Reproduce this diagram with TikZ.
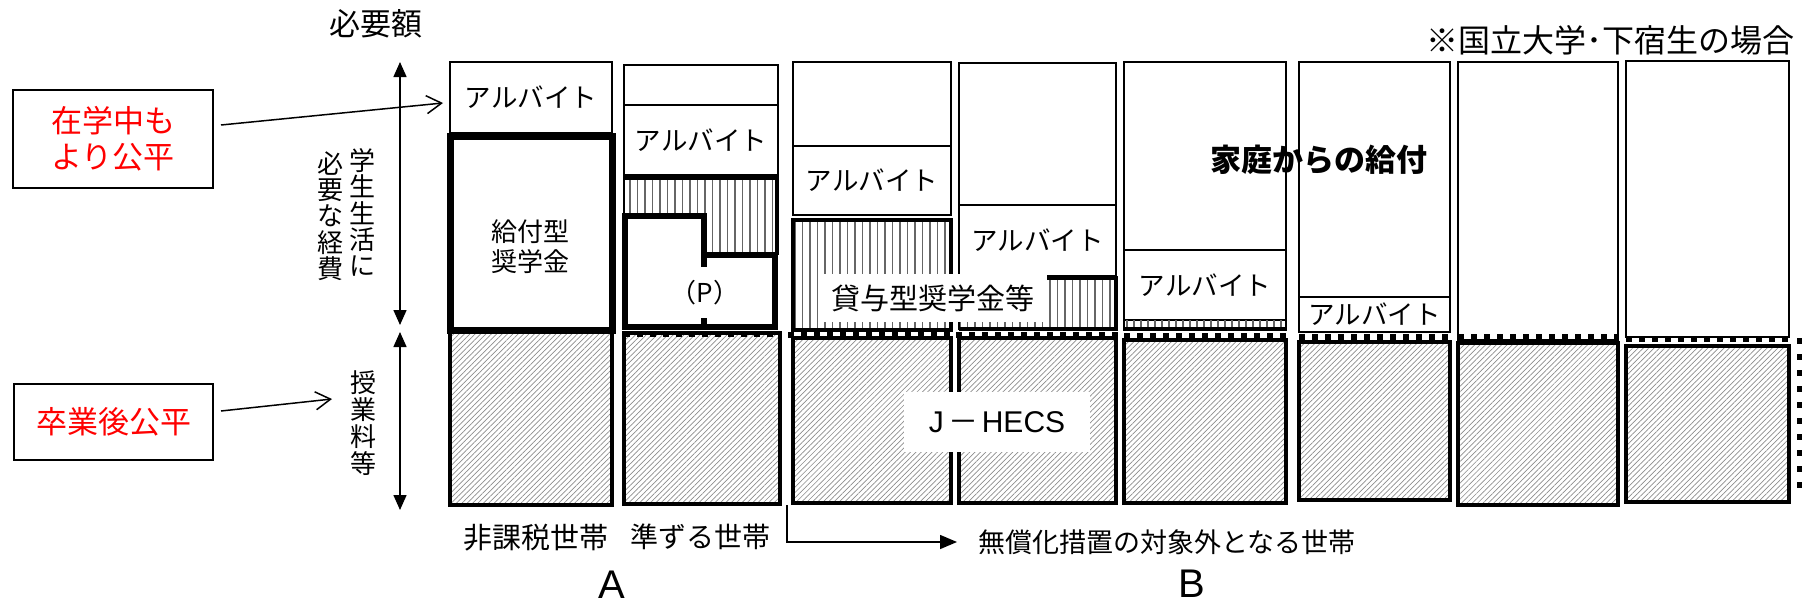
\documentclass[tikz,border=0pt]{standalone}
\usepackage{fontspec}
\setmainfont{Noto Sans CJK JP}
\newfontfamily\latinfont{Liberation Sans}
\usetikzlibrary{arrows.meta,patterns.meta}
\begin{document}
\begin{tikzpicture}[x=1pt,y=-1pt,
  thinbox/.style={draw=black,line width=2pt},
  albbox/.style={draw=black,line width=2pt,inner sep=0pt,font=\fontsize{26.5}{30}\selectfont},
  hatchbox/.style={draw=black,line width=4pt,pattern={Lines[angle=45,distance=3.8pt,line width=0.7pt]},pattern color=black!45},
  vhatch/.style={pattern={Lines[angle=90,distance=7.5pt,line width=1.1pt]},pattern color=black!60},
  dashrow/.style={line width=6pt,dash pattern=on 6pt off 7pt},
  redbox/.style={draw=black,line width=1.5pt,text=red,inner sep=0pt,align=center},
  txt/.style={inner sep=0pt,font=\fontsize{28}{30}\selectfont},
  vtxt/.style={inner sep=0pt,align=center,font=\fontsize{26}{26.3}\selectfont},
  whitelbl/.style={fill=white,inner sep=0pt},
  bigarrow/.style={line width=1.5pt,{Triangle[length=15pt,width=13pt]}-{Triangle[length=15pt,width=13pt]}},
  openarrow/.style={line width=1.5pt,-{Straight Barb[length=15pt,width=18pt]}}
]
\useasboundingbox (0,0) rectangle (1807,605);

% ---------- hatched tuition boxes ----------
\draw[hatchbox] (450,332) rectangle (612,505);
\draw[hatchbox] (624,333) rectangle (780,504);
\draw[hatchbox] (793,338) rectangle (951,503);
\draw[hatchbox] (959,338) rectangle (1116,503);
\draw[hatchbox] (1124,340) rectangle (1286,503);
\draw[hatchbox] (1299,342) rectangle (1450,500);
\draw[hatchbox] (1458,343) rectangle (1618,505);
\draw[hatchbox] (1626,346) rectangle (1789,502);

% ---------- dashed boundary ----------
\draw[dashrow] (624,334) -- (780,334);
\draw[dashrow] (788,335) -- (956,335);
\draw[dashrow] (956,335) -- (1118,335);
\draw[dashrow] (1124,336) -- (1290,336);
\draw[dashrow] (1299,337) -- (1450,337);
\draw[dashrow] (1458,337) -- (1618,337);
\draw[dashrow] (1626,339) -- (1789,339);
\draw[line width=5pt,dash pattern=on 6pt off 10pt] (1799,338) -- (1799,497);

% ---------- column 1 ----------
\node[albbox,minimum width=162pt,minimum height=71pt] (alb1) at (531,97.5) {アルバイト};
\draw[line width=7pt] (450,136) rectangle (612,330);
\node[txt,align=center,font=\fontsize{26}{30}\selectfont] (kyufu) at (530,247) {給付型\\奨学金};

% ---------- column 2 ----------
\draw[thinbox] (624,65) rectangle (778,105);
\node[albbox,minimum width=154pt,minimum height=70pt] (alb2) at (701,140) {アルバイト};
\fill[vhatch] (624,178) -- (778,178) -- (778,255) -- (704,255) -- (704,216) -- (624,216) -- cycle;
\draw[line width=2pt] (624,175) -- (624,216);
\draw[line width=3.5pt] (624,178) -- (777,178) -- (777,255);
\draw[line width=6pt,line join=miter] (625,216) -- (704,216) -- (704,255) -- (775,255) -- (775,327) -- (625,327) -- cycle;
\draw[line width=6pt] (704,255) -- (704,267);
\draw[line width=6pt] (704,318) -- (704,327);
\node[txt,font=\fontsize{26}{30}\selectfont] (P) at (705,293) {（P）};

% ---------- column 3 ----------
\draw[thinbox] (793,62) rectangle (951,146);
\node[albbox,minimum width=158pt,minimum height=69pt] (alb3) at (872,180.5) {アルバイト};
\draw[line width=3.5pt,vhatch] (793,220) rectangle (951,330);

% ---------- column 4 ----------
\draw[thinbox] (959,63) rectangle (1116,205);
\node[albbox,minimum width=157pt,minimum height=71pt] (alb4) at (1037.5,240.5) {アルバイト};
\fill[vhatch] (959,277) rectangle (1116,329);
\draw[line width=2pt] (959,276) -- (959,330);
\draw[line width=4pt] (1047,278) -- (1116,278) -- (1116,329) -- (959,329);

% ---------- column 5 ----------
\draw[thinbox] (1124,62) rectangle (1286,250);
\node[albbox,minimum width=162pt,minimum height=70pt] (alb5) at (1205,285) {アルバイト};
\fill[pattern={Lines[angle=90,distance=7pt,line width=1.1pt]},pattern color=black!60] (1124,320) rectangle (1286,328);
\draw[line width=2pt] (1124,320) -- (1124,330) (1286,320) -- (1286,330);
\draw[line width=4pt] (1123,329) -- (1287,329);

% ---------- column 6 ----------
\draw[thinbox] (1299,62) rectangle (1450,297);
\node[albbox,minimum width=151pt,minimum height=35pt] (alb6) at (1374.5,314.5) {アルバイト};

% ---------- column 7, 8 ----------
\draw[thinbox] (1458,62) rectangle (1618,340);
\draw[thinbox] (1626,61) rectangle (1789,337);

% ---------- labels on boxes ----------
\node[whitelbl,minimum width=229pt,minimum height=48pt,font=\fontsize{29}{30}\selectfont] (taiyo) at (932.5,298) {貸与型奨学金等};
\node[whitelbl,minimum width=186pt,minimum height=60pt,font=\fontsize{30}{32}\selectfont] (jhecs) at (997,422) {{\latinfont J}\hspace{5pt}－\hspace{3pt}{\latinfont HECS}};
\node[txt,font=\fontsize{31}{32}\bfseries] (katei) at (1319,160) {家庭からの給付};

% ---------- header texts ----------
\node[txt,font=\fontsize{31}{32}\selectfont] (hitsuyo) at (376,24) {必要額};
\node[txt,anchor=east,font=\fontsize{32}{34}\selectfont] (note) at (1795,40) {※国立大学･下宿生の場合};

% ---------- left side ----------
\node[redbox,minimum width=200pt,minimum height=98pt,font=\fontsize{31}{36}\selectfont] (fair1) at (113,139) {在学中も\\より公平};
\node[redbox,minimum width=199pt,minimum height=76pt,font=\fontsize{31}{34}\selectfont] (fair2) at (113.5,422) {卒業後公平};

\node[vtxt] (v1) at (362,212.5) {学\\生\\生\\活\\に};
\node[vtxt] (v2) at (330,216) {必\\要\\な\\経\\費};
\node[vtxt,font=\fontsize{26}{27}\selectfont] (v3) at (363,423.5) {授\\業\\料\\等};

\coordinate (va1t) at (400,62);
\coordinate (va1b) at (400,325);
\coordinate (va2t) at (400,332);
\coordinate (va2b) at (400,510);
\draw[bigarrow] (va1t) -- (va1b);
\draw[bigarrow] (va2t) -- (va2b);

\coordinate (a1s) at (221,125);
\coordinate (a1e) at (443,103);
\coordinate (a2s) at (221,411);
\coordinate (a2e) at (332,399);
\draw[openarrow] (a1s) -- (a1e);
\draw[openarrow] (a2s) -- (a2e);

% ---------- bottom labels ----------
\node[txt,font=\fontsize{29}{30}\selectfont] (hika) at (536,538) {非課税世帯};
\node[txt,font=\fontsize{28}{30}\selectfont] (junzu) at (700,537) {準ずる世帯};
\node[txt,anchor=west,font=\fontsize{27}{30}\selectfont] (mushou) at (978,542) {無償化措置の対象外となる世帯};
\coordinate (bs) at (787,505);
\coordinate (be) at (957,542);
\draw[line width=1.5pt,-{Triangle[length=17pt,width=14pt]}] (bs) |- (be);
\node[txt,font=\latinfont\fontsize{40}{42}\selectfont] (A) at (612,585) {A};
\node[txt,font=\latinfont\fontsize{40}{42}\selectfont] (B) at (1192,584) {B};
\end{tikzpicture}
\end{document}
